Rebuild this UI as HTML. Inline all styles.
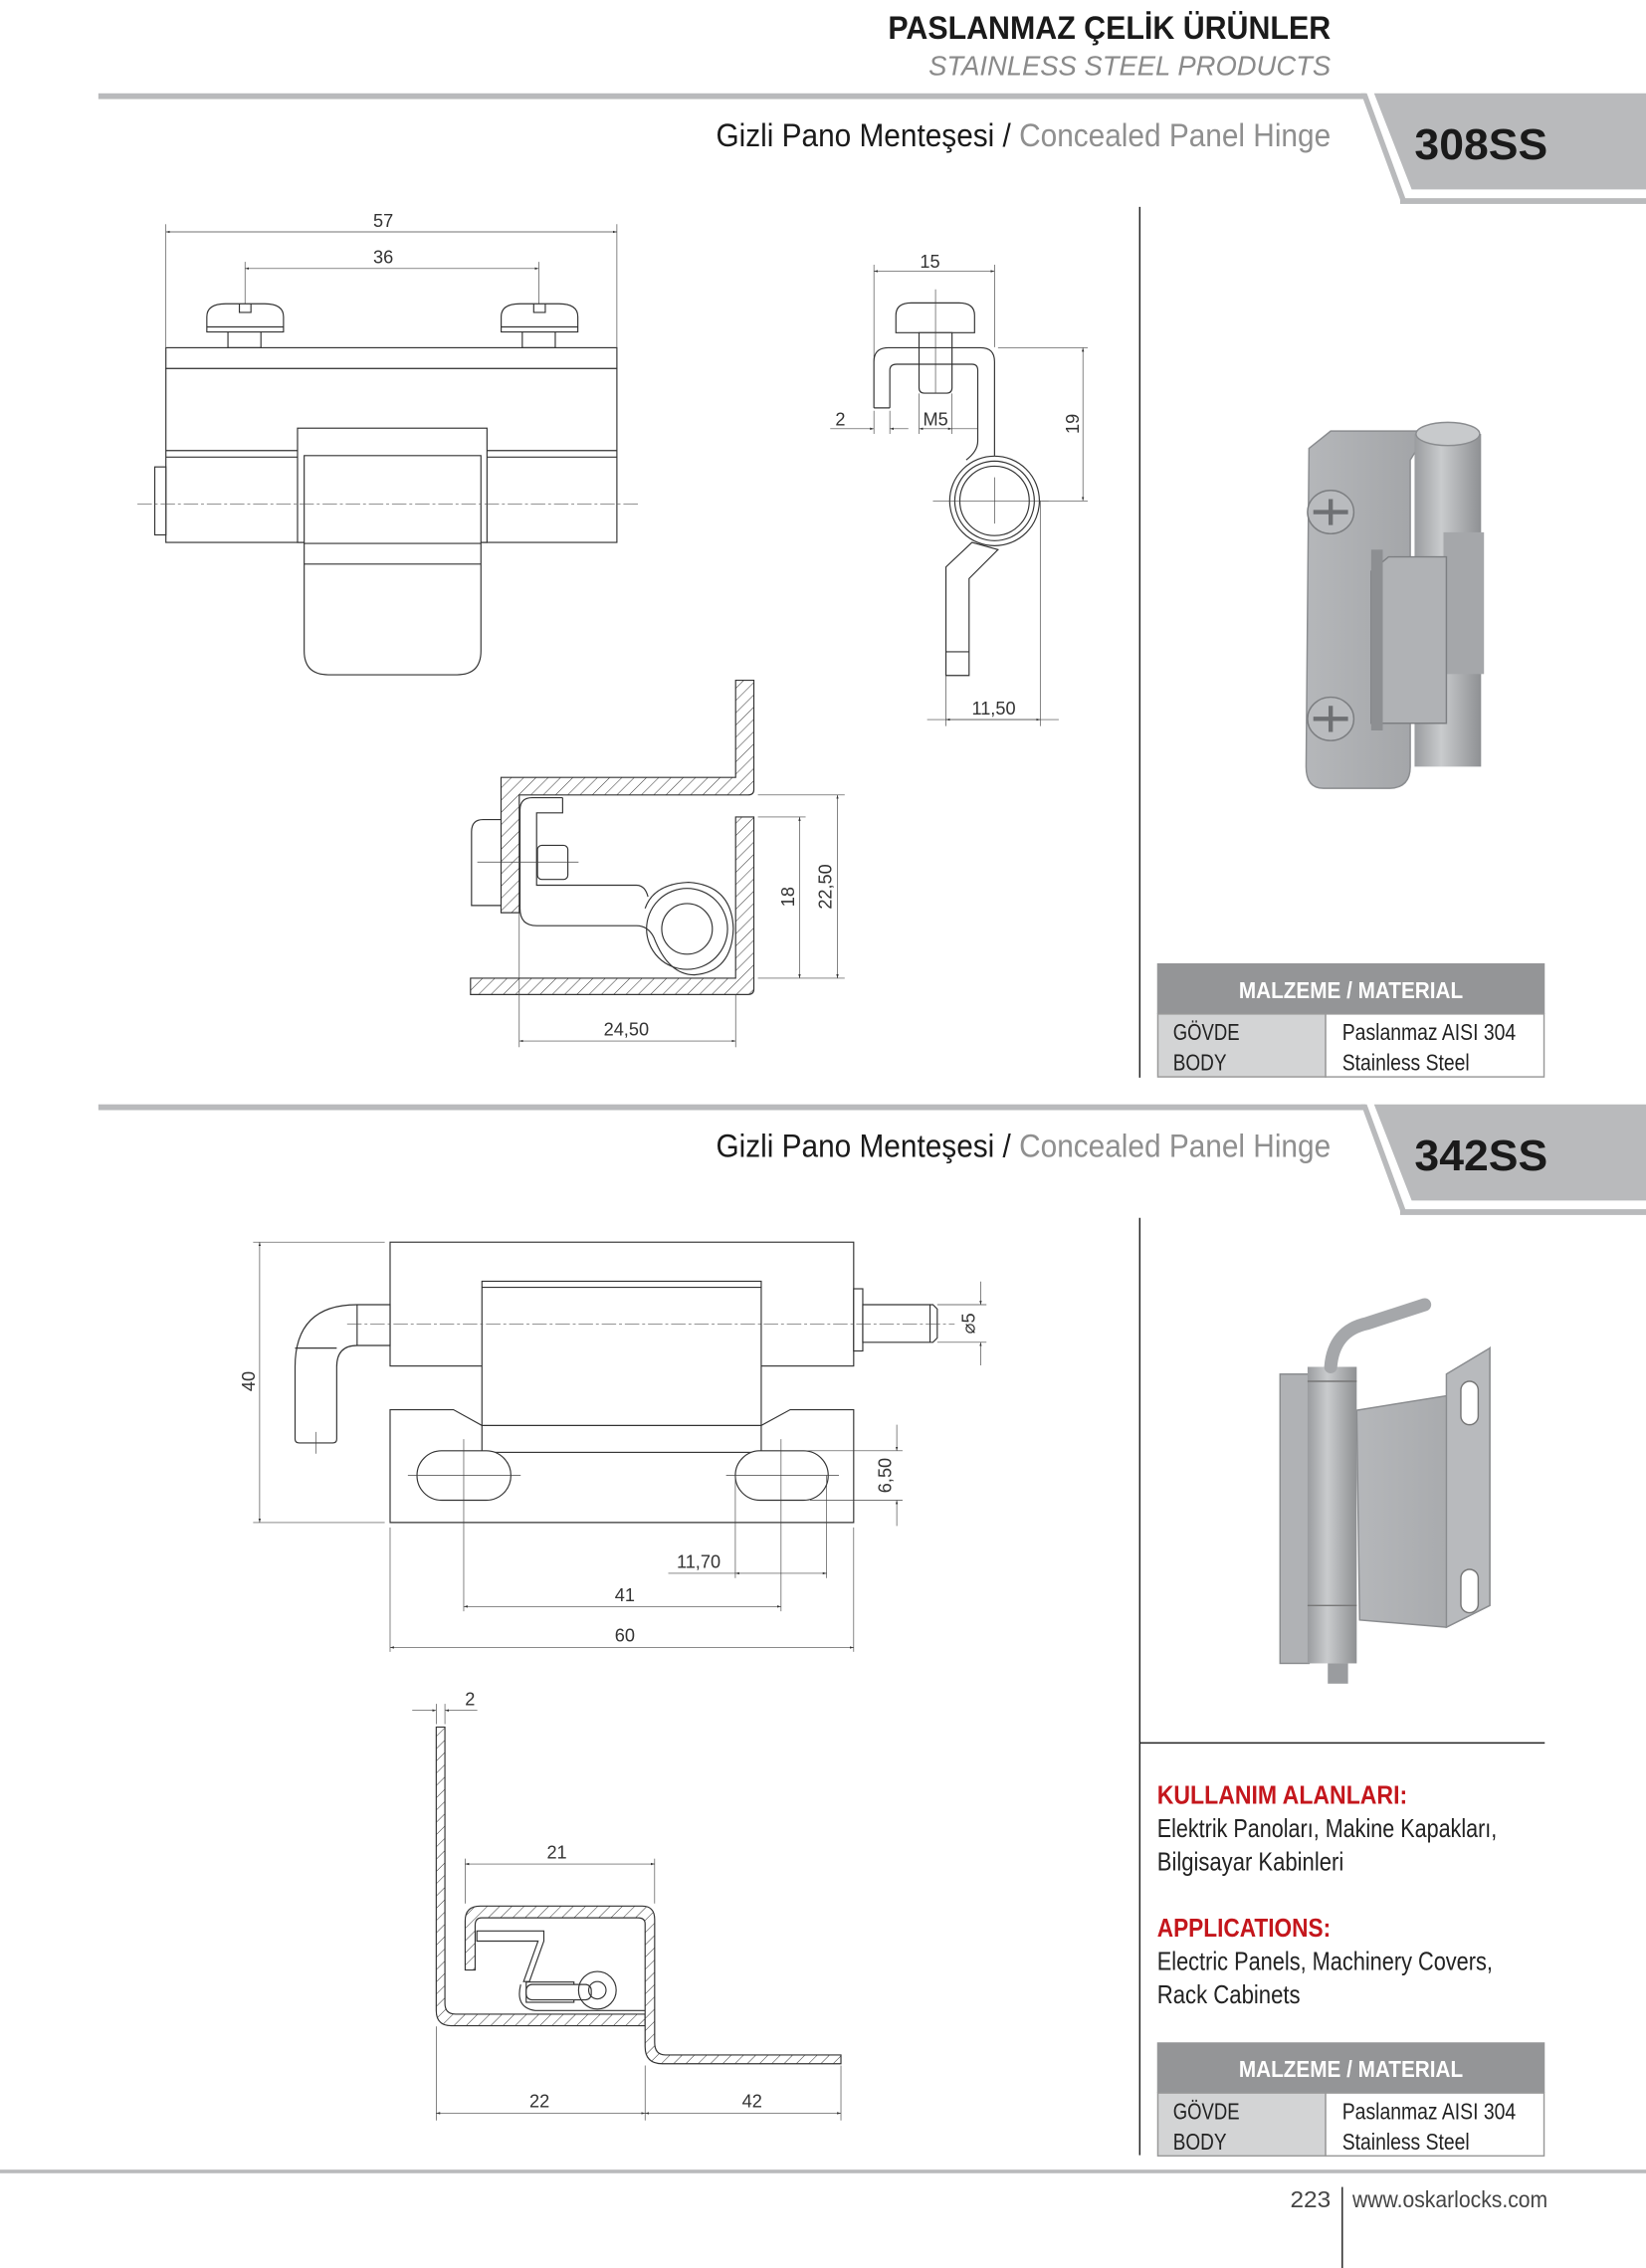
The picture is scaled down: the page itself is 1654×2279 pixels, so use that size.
<!DOCTYPE html>
<html><head><meta charset="utf-8"><style>
html,body{margin:0;padding:0;background:#fff}
svg{display:block}
text{font-family:"Liberation Sans",sans-serif}
.d{fill:none;stroke:#333;stroke-width:0.8}
.o{fill:#fff;stroke:#333;stroke-width:0.8}
.t{fill:none;stroke:#444;stroke-width:0.45}
.c{fill:none;stroke:#555;stroke-width:0.45;stroke-dasharray:10 2 2 2}
.h{fill:url(#hatch);stroke:#333;stroke-width:0.8}
.dt{font-size:12.5px;fill:#333}
</style></head><body>
<svg width="1654" height="2279" viewBox="0 0 1138 1568" xmlns="http://www.w3.org/2000/svg">
<defs>
<pattern id="hatch" patternUnits="userSpaceOnUse" width="6" height="6" patternTransform="rotate(45)">
<rect width="6" height="6" fill="#fff"/><line x1="0" y1="0" x2="0" y2="6" stroke="#333" stroke-width="0.7"/></pattern>
<marker id="a" viewBox="0 0 10 10" refX="10" refY="5" markerWidth="6" markerHeight="6" orient="auto-start-reverse"><path d="M0,2 L10,5 L0,8 Z" fill="#333"/></marker>
<linearGradient id="g1" x1="0" x2="1"><stop offset="0" stop-color="#9a9c9f"/><stop offset="0.4" stop-color="#c9cbcd"/><stop offset="1" stop-color="#8e9093"/></linearGradient>
<linearGradient id="g2" x1="0" x2="1"><stop offset="0" stop-color="#b5b7ba"/><stop offset="1" stop-color="#a3a5a8"/></linearGradient>
</defs>

<!-- header -->
<text x="920" y="27" text-anchor="end" font-size="22" font-weight="bold" fill="#1a1a1a" textLength="306" lengthAdjust="spacingAndGlyphs">PASLANMAZ ÇELİK ÜRÜNLER</text>
<text x="920" y="52" text-anchor="end" font-size="19" font-style="italic" fill="#8a8a8a" textLength="278" lengthAdjust="spacingAndGlyphs">STAINLESS STEEL PRODUCTS</text>

<!-- bar 1 -->
<g>
<rect x="68" y="64.5" width="876" height="4" fill="#b9babc"/>
<polygon points="941,64.5 945,64.5 972,138 968,138" fill="#b9babc"/>
<rect x="968" y="137" width="170" height="4" fill="#b9babc"/>
<polygon points="950,64.5 1138,64.5 1138,131 976,131" fill="#b9babc"/>
<text x="495" y="101" font-size="22" fill="#1a1a1a" textLength="425" lengthAdjust="spacingAndGlyphs">Gizli Pano Menteşesi / <tspan fill="#8f8f8f">Concealed Panel Hinge</tspan></text>
<text x="978" y="110" font-size="30" font-weight="bold" fill="#1a1a1a" textLength="92" lengthAdjust="spacingAndGlyphs">308SS</text>
</g>
<line x1="788" y1="143" x2="788" y2="745" stroke="#222" stroke-width="1"/>

<!-- bar 2 -->
<g transform="translate(0,699)">
<rect x="68" y="64.5" width="876" height="4" fill="#b9babc"/>
<polygon points="941,64.5 945,64.5 972,138 968,138" fill="#b9babc"/>
<rect x="968" y="137" width="170" height="4" fill="#b9babc"/>
<polygon points="950,64.5 1138,64.5 1138,131 976,131" fill="#b9babc"/>
<text x="495" y="101" font-size="22" fill="#1a1a1a" textLength="425" lengthAdjust="spacingAndGlyphs">Gizli Pano Menteşesi / <tspan fill="#8f8f8f">Concealed Panel Hinge</tspan></text>
<text x="978" y="110" font-size="30" font-weight="bold" fill="#1a1a1a" textLength="92" lengthAdjust="spacingAndGlyphs">342SS</text>
</g>
<line x1="788" y1="842" x2="788" y2="1490" stroke="#222" stroke-width="1"/>
<line x1="788" y1="1205" x2="1068" y2="1205" stroke="#222" stroke-width="1"/>

<!-- material tables -->
<g id="tbl">
<rect x="800" y="666" width="268" height="35" fill="#949597"/>
<rect x="800.5" y="701" width="116" height="43.5" fill="#d3d4d5" stroke="#999" stroke-width="1"/>
<rect x="916.5" y="701" width="151" height="43.5" fill="#fff" stroke="#999" stroke-width="1"/>
<text x="934" y="690" text-anchor="middle" font-size="16" font-weight="bold" fill="#fff" textLength="155" lengthAdjust="spacingAndGlyphs">MALZEME / MATERIAL</text>
<text x="811" y="719" font-size="16" fill="#222" textLength="46" lengthAdjust="spacingAndGlyphs">GÖVDE</text>
<text x="811" y="740" font-size="16" fill="#222" textLength="37" lengthAdjust="spacingAndGlyphs">BODY</text>
<text x="928" y="719" font-size="16" fill="#222" textLength="120" lengthAdjust="spacingAndGlyphs">Paslanmaz AISI 304</text>
<text x="928" y="740" font-size="16" fill="#222" textLength="88" lengthAdjust="spacingAndGlyphs">Stainless Steel</text>
</g>
<use href="#tbl" transform="translate(0,746)"/>

<!-- applications -->
<text x="800" y="1247" font-size="18" font-weight="bold" fill="#c4161c" textLength="173" lengthAdjust="spacingAndGlyphs">KULLANIM ALANLARI:</text>
<text x="800" y="1270" font-size="18" fill="#222" textLength="235" lengthAdjust="spacingAndGlyphs">Elektrik Panoları, Makine Kapakları,</text>
<text x="800" y="1293" font-size="18" fill="#222" textLength="129" lengthAdjust="spacingAndGlyphs">Bilgisayar Kabinleri</text>
<text x="800" y="1339" font-size="18" font-weight="bold" fill="#c4161c" textLength="120" lengthAdjust="spacingAndGlyphs">APPLICATIONS:</text>
<text x="800" y="1362" font-size="18" fill="#222" textLength="232" lengthAdjust="spacingAndGlyphs">Electric Panels, Machinery Covers,</text>
<text x="800" y="1385" font-size="18" fill="#222" textLength="99" lengthAdjust="spacingAndGlyphs">Rack Cabinets</text>

<!-- footer -->
<rect x="0" y="1500" width="1138" height="2.5" fill="#b9babc"/>
<text x="920" y="1526" text-anchor="end" font-size="16" fill="#444" textLength="28" lengthAdjust="spacingAndGlyphs">223</text>
<line x1="928" y1="1512" x2="928" y2="1568" stroke="#222" stroke-width="1"/>
<text x="935" y="1526" font-size="16" fill="#444" textLength="135" lengthAdjust="spacingAndGlyphs">www.oskarlocks.com</text>

<!-- ===== 308SS front view ===== -->
<g>
<line class="t" x1="114.7" y1="155" x2="114.7" y2="240"/><line class="t" x1="426.5" y1="155" x2="426.5" y2="240"/>
<line class="t" x1="114.7" y1="160.3" x2="426.5" y2="160.3" marker-start="url(#a)" marker-end="url(#a)"/>
<text class="dt" x="265" y="157" text-anchor="middle">57</text>
<line class="t" x1="169.4" y1="181" x2="169.4" y2="247"/><line class="t" x1="372.5" y1="181" x2="372.5" y2="247"/>
<line class="t" x1="169.4" y1="185.6" x2="372.5" y2="185.6" marker-start="url(#a)" marker-end="url(#a)"/>
<text class="dt" x="265" y="182" text-anchor="middle">36</text>
<g id="scr"><path class="o" d="M143,229.5 V219 Q143,210 156,210 H183 Q196,210 196,219 V229.5 Z"/>
<path class="d" d="M165.5,210 V216 H173.5 V210"/><line class="d" x1="143" y1="226" x2="196" y2="226"/>
<rect class="o" x="157.6" y="229.5" width="22.8" height="10.9"/></g>
<use href="#scr" transform="translate(203.5,0)"/>
<rect class="o" x="114.7" y="240.4" width="311.8" height="14.4"/>
<rect class="o" x="114.7" y="254.8" width="311.8" height="120.2"/>
<line class="d" x1="114.7" y1="311.5" x2="426.5" y2="311.5"/><line class="d" x1="114.7" y1="316" x2="426.5" y2="316"/>
<rect class="o" x="107" y="322.8" width="7.7" height="47"/>
<rect class="o" x="205.7" y="296" width="131" height="79"/>
<path class="o" d="M210.3,315 H332.5 V450 Q332.5,466.5 316,466.5 H227 Q210.3,466.5 210.3,450 Z"/>
<line class="d" x1="210.3" y1="375.7" x2="332.5" y2="375.7"/><line class="d" x1="210.3" y1="390" x2="332.5" y2="390"/>
<line class="c" x1="95" y1="348.5" x2="443" y2="348.5"/>
</g>

<!-- ===== 308SS side view ===== -->
<g>
<line class="t" x1="604.2" y1="183" x2="604.2" y2="282"/><line class="t" x1="687.6" y1="183" x2="687.6" y2="240"/>
<line class="t" x1="604.2" y1="187.5" x2="687.6" y2="187.5" marker-start="url(#a)" marker-end="url(#a)"/>
<text class="dt" x="643" y="185" text-anchor="middle">15</text>
<path class="o" d="M619.4,230 V218 Q619.4,209.4 630,209.4 H663 Q673.8,209.4 673.8,218 V230 Z"/>
<path class="o" d="M635.4,230 V268 Q635.4,271.8 639,271.8 H654.6 Q658.2,271.8 658.2,268 V230 Z"/>
<line class="t" x1="646.8" y1="200" x2="646.8" y2="272"/>
<path class="d" d="M604.2,282 V250 Q604.2,240.4 614,240.4 H678 Q687.6,240.4 687.6,250 V315"/>
<path class="d" d="M615.2,282 V256 Q615.2,251.8 620,251.8 H672 Q676,251.8 676,256 V305 Q676,312 668,318"/>
<line class="d" x1="604.2" y1="282" x2="615.2" y2="282"/>
<circle class="o" cx="687.6" cy="346.3" r="31"/>
<circle class="d" cx="687.6" cy="346.3" r="27.5"/>
<circle class="d" cx="687.6" cy="346.3" r="24"/>
<path class="o" d="M672,375 L654,392 V467 H670 V400 L690,380 Z"/>
<line class="d" x1="654" y1="450.6" x2="670" y2="450.6"/>
<line class="t" x1="645" y1="346.3" x2="725" y2="346.3"/><line class="t" x1="687.6" y1="330" x2="687.6" y2="362"/>
<line class="t" x1="690" y1="240.4" x2="752" y2="240.4"/><line class="t" x1="720" y1="346.3" x2="752" y2="346.3"/>
<line class="t" x1="748.7" y1="240.4" x2="748.7" y2="346.3" marker-start="url(#a)" marker-end="url(#a)"/>
<text class="dt" x="746" y="293" text-anchor="middle" transform="rotate(-90 746 293)">19</text>
<line class="t" x1="604.2" y1="284" x2="604.2" y2="300"/><line class="t" x1="615.2" y1="284" x2="615.2" y2="300"/>
<line class="t" x1="635.4" y1="272" x2="635.4" y2="300"/><line class="t" x1="658.2" y1="272" x2="658.2" y2="300"/>
<line class="t" x1="574" y1="296.4" x2="604.2" y2="296.4" marker-end="url(#a)"/>
<line class="t" x1="615.2" y1="296.4" x2="628" y2="296.4" marker-start="url(#a)"/>
<line class="t" x1="635.4" y1="296.4" x2="658.2" y2="296.4" marker-start="url(#a)" marker-end="url(#a)"/>
<line class="t" x1="658.2" y1="296.4" x2="676" y2="296.4"/>
<text class="dt" x="581" y="294" text-anchor="middle">2</text>
<text class="dt" x="646.8" y="294" text-anchor="middle">M5</text>
<line class="t" x1="654" y1="467" x2="654" y2="502"/><line class="t" x1="719.2" y1="346" x2="719.2" y2="502"/>
<line class="t" x1="641" y1="497.5" x2="732" y2="497.5"/>
<line class="t" x1="654" y1="497.5" x2="719.2" y2="497.5" marker-start="url(#a)" marker-end="url(#a)"/>
<text class="dt" x="687" y="494" text-anchor="middle">11,50</text>
</g>

<!-- ===== 308SS section ===== -->
<g>
<path class="h" d="M346.4,537.5 H508.6 V470.3 H521.2 V546 Q521.2,549.6 517,549.6 H359 V631 H346.4 Z"/>
<path class="h" d="M508.6,564.8 H521.2 V684 Q521.2,687.6 517,687.6 H325.3 V676.3 H508.6 Z"/>
<path class="o" d="M326,626 V575 Q326,566.6 334,566.6 H346.4 V626 Z"/>
<path class="d" d="M389,551.5 H368 Q359.5,551.5 359.5,560 V628 Q359.5,640 371,640 H440 Q448,640 452,648 Q462,674 480,674 Q506,672 507,642 Q506,612 476,610 Q452,611 446,628"/>
<path class="d" d="M389,551.5 V562 H371 V612 H440 Q446,612 448,620"/>
<rect class="o" x="371.6" y="584.4" width="21" height="23.6" rx="3"/>
<line class="t" x1="330" y1="596" x2="400" y2="596"/>
<circle class="d" cx="475" cy="642.2" r="28"/>
<circle class="d" cx="475" cy="642.2" r="17.5"/>
<line class="t" x1="524" y1="549.6" x2="584" y2="549.6"/><line class="t" x1="524" y1="564.8" x2="557" y2="564.8"/>
<line class="t" x1="524" y1="676.3" x2="584" y2="676.3"/>
<line class="t" x1="552.8" y1="564.8" x2="552.8" y2="676.3" marker-start="url(#a)" marker-end="url(#a)"/>
<line class="t" x1="579" y1="549.6" x2="579" y2="676.3" marker-start="url(#a)" marker-end="url(#a)"/>
<text class="dt" x="549" y="620" text-anchor="middle" transform="rotate(-90 549 620)">18</text>
<text class="dt" x="575" y="613" text-anchor="middle" transform="rotate(-90 575 613)">22,50</text>
<line class="t" x1="359" y1="631" x2="359" y2="724"/><line class="t" x1="508.6" y1="688" x2="508.6" y2="724"/>
<line class="t" x1="359" y1="719.7" x2="508.6" y2="719.7" marker-start="url(#a)" marker-end="url(#a)"/>
<text class="dt" x="433" y="716" text-anchor="middle">24,50</text>
</g>

<!-- ===== 308SS photo ===== -->
<g>
<path d="M905,310 L920,298 H980 V310 L975,318 V530 Q975,545 960,545 H915 Q903,545 903,530 Z" fill="url(#g2)" stroke="#8a8c8f" stroke-width="1"/>
<path d="M978,300 H1024 V530 H978 Z" fill="url(#g1)"/>
<ellipse cx="1001" cy="300" rx="22" ry="8" fill="#c8cacc" stroke="#8a8c8f"/>
<rect x="998" y="368" width="28" height="98" fill="#a5a7aa"/>
<path d="M948,395 L960,385 H1000 V500 H948 Z" fill="#b0b2b5" stroke="#7d7f82"/>
<rect x="948" y="380" width="8" height="125" fill="#8d8f92"/>
<g id="ph"><ellipse cx="920" cy="354" rx="16" ry="15" fill="#b9bbbe" stroke="#7c7e81"/>
<path d="M908,354 H932 M920,345 V363" stroke="#6e7073" stroke-width="3"/></g>
<use href="#ph" transform="translate(0,143)"/>
</g>

<!-- ===== 342SS front view ===== -->
<g>
<line class="t" x1="175" y1="858.8" x2="266" y2="858.8"/><line class="t" x1="175" y1="1052.6" x2="266" y2="1052.6"/>
<line class="t" x1="179.5" y1="858.8" x2="179.5" y2="1052.6" marker-start="url(#a)" marker-end="url(#a)"/>
<text class="dt" x="176" y="955" text-anchor="middle" transform="rotate(-90 176 955)">40</text>
<rect class="o" x="269.7" y="858.8" width="320.5" height="85.6"/>
<path class="o" d="M269.7,974.6 H313.5 L333.2,985.5 H526.3 L546.3,974.6 H590.2 V1052.6 H269.7 Z"/>
<rect class="o" x="333.2" y="885.8" width="193.1" height="118.3"/>
<line class="d" x1="333.2" y1="985.5" x2="526.3" y2="985.5"/>
<line class="d" x1="333.2" y1="890" x2="526.3" y2="890"/>
<rect class="o" x="288.3" y="1003" width="64.9" height="34.2" rx="17"/>
<rect class="o" x="508.4" y="1003" width="64.2" height="34.2" rx="17"/>
<line class="t" x1="282" y1="1020" x2="360" y2="1020"/><line class="t" x1="502" y1="1020" x2="580" y2="1020"/>
<path class="o" d="M269.7,902 H246.9 Q204,902 204,945 V995 Q204,997.6 207,997.6 H230 Q232.8,997.6 232.8,995 V945 Q232.8,930.2 246.9,930.2 H269.7 Z"/>
<line class="d" x1="204" y1="932" x2="232.8" y2="932"/>
<line class="d" x1="246.9" y1="902" x2="246.9" y2="930.2"/>
<line class="t" x1="218.4" y1="990" x2="218.4" y2="1005"/>
<rect class="o" x="590.2" y="891" width="6.3" height="43"/>
<path class="o" d="M596.5,902 H645 L648,905 V925 L645,928 H596.5 Z"/>
<line class="d" x1="643" y1="902" x2="643" y2="928"/>
<line class="c" x1="240" y1="915.3" x2="660" y2="915.3"/>
<line class="t" x1="648" y1="902" x2="682" y2="902"/><line class="t" x1="648" y1="928" x2="682" y2="928"/>
<line class="t" x1="678" y1="886" x2="678" y2="902" marker-end="url(#a)"/><line class="t" x1="678" y1="944" x2="678" y2="928" marker-end="url(#a)"/>
<text class="dt" x="674" y="915" text-anchor="middle" transform="rotate(-90 674 915)">⌀5</text>
<line class="t" x1="540" y1="1003" x2="624" y2="1003"/><line class="t" x1="560" y1="1037.2" x2="624" y2="1037.2"/>
<line class="t" x1="620" y1="985" x2="620" y2="1003" marker-end="url(#a)"/><line class="t" x1="620" y1="1055" x2="620" y2="1037.2" marker-end="url(#a)"/>
<text class="dt" x="616" y="1020" text-anchor="middle" transform="rotate(-90 616 1020)">6,50</text>
<line class="t" x1="508.4" y1="1020" x2="508.4" y2="1091"/><line class="t" x1="571.5" y1="1020" x2="571.5" y2="1091"/>
<line class="t" x1="462" y1="1087.7" x2="508.4" y2="1087.7"/>
<line class="t" x1="508.4" y1="1087.7" x2="571.5" y2="1087.7" marker-start="url(#a)" marker-end="url(#a)"/>
<text class="dt" x="483" y="1084" text-anchor="middle">11,70</text>
<line class="t" x1="320.6" y1="995" x2="320.6" y2="1114"/><line class="t" x1="540" y1="995" x2="540" y2="1114"/>
<line class="t" x1="320.6" y1="1110.7" x2="540" y2="1110.7" marker-start="url(#a)" marker-end="url(#a)"/>
<text class="dt" x="432" y="1107" text-anchor="middle">41</text>
<line class="t" x1="269.7" y1="1056" x2="269.7" y2="1142"/><line class="t" x1="590.2" y1="1056" x2="590.2" y2="1142"/>
<line class="t" x1="269.7" y1="1139" x2="590.2" y2="1139" marker-start="url(#a)" marker-end="url(#a)"/>
<text class="dt" x="432" y="1135" text-anchor="middle">60</text>
</g>

<!-- ===== 342SS section ===== -->
<g>
<line class="t" x1="301.6" y1="1178" x2="301.6" y2="1192"/><line class="t" x1="307.6" y1="1178" x2="307.6" y2="1192"/>
<line class="t" x1="285" y1="1182.5" x2="301.6" y2="1182.5" marker-end="url(#a)"/>
<line class="t" x1="330" y1="1182.5" x2="307.6" y2="1182.5" marker-end="url(#a)"/>
<text class="dt" x="325" y="1179" text-anchor="middle">2</text>
<path class="h" d="M301.6,1194 H307.6 V1385 Q307.6,1392.5 315,1392.5 H446 V1400.5 H312 Q301.6,1400.5 301.6,1390 Z"/>
<path class="h" d="M321.6,1362 V1328 Q321.6,1317.8 332,1317.8 H444 Q452.6,1317.8 452.6,1327 V1412 Q452.6,1420.7 460,1420.7 H581.4 V1426.8 H458 Q446,1426.8 446,1415 V1330 Q446,1325.9 441,1325.9 H333 Q328.5,1325.9 328.5,1331 V1362 Z"/>
<path class="o" d="M329.7,1335 H376 V1342 L366,1370 H362 L372,1342 H329.7 Z"/>
<rect class="o" x="363.8" y="1370.3" width="33" height="14" />
<rect class="o" x="363.8" y="1372" width="45" height="10.6" rx="4"/>
<path class="d" d="M360,1372 Q356,1388 370,1390 H446"/>
<circle class="d" cx="413" cy="1376" r="13"/>
<circle class="d" cx="413" cy="1376" r="6"/>
<line class="t" x1="321.6" y1="1285" x2="321.6" y2="1316"/><line class="t" x1="452.6" y1="1285" x2="452.6" y2="1316"/>
<line class="t" x1="321.6" y1="1288.7" x2="452.6" y2="1288.7" marker-start="url(#a)" marker-end="url(#a)"/>
<text class="dt" x="385" y="1285" text-anchor="middle">21</text>
<line class="t" x1="301.6" y1="1401" x2="301.6" y2="1466"/><line class="t" x1="446" y1="1428" x2="446" y2="1466"/><line class="t" x1="581.4" y1="1428" x2="581.4" y2="1466"/>
<line class="t" x1="301.6" y1="1461" x2="446" y2="1461" marker-start="url(#a)" marker-end="url(#a)"/>
<line class="t" x1="446" y1="1461" x2="581.4" y2="1461" marker-start="url(#a)" marker-end="url(#a)"/>
<text class="dt" x="373" y="1457" text-anchor="middle">22</text>
<text class="dt" x="520" y="1457" text-anchor="middle">42</text>
</g>

<!-- ===== 342SS photo ===== -->
<g>
<path d="M938,975 L1000,965 L1030,932 V1110 L1000,1125 L940,1120 Z" fill="url(#g2)" stroke="#8a8c8f"/>
<path d="M1000,950 L1030,932 V1110 L1000,1125 Z" fill="#b8babd" stroke="#8a8c8f"/>
<rect x="1010" y="955" width="12" height="30" rx="6" fill="#fff" stroke="#777"/>
<rect x="1010" y="1085" width="12" height="30" rx="6" fill="#fff" stroke="#777"/>
<rect x="885" y="950" width="20" height="200" fill="#b0b2b5" stroke="#8a8c8f"/>
<rect x="904" y="945" width="34" height="205" fill="url(#g1)"/>
<line x1="904" y1="955" x2="938" y2="955" stroke="#777"/><line x1="904" y1="1110" x2="938" y2="1110" stroke="#777"/>
<path d="M920,945 Q922,920 945,915 L985,902" fill="none" stroke="#a5a7aa" stroke-width="9" stroke-linecap="round"/>
<rect x="918" y="1150" width="14" height="14" fill="#9a9c9f"/>
</g>
</svg>
</body></html>
